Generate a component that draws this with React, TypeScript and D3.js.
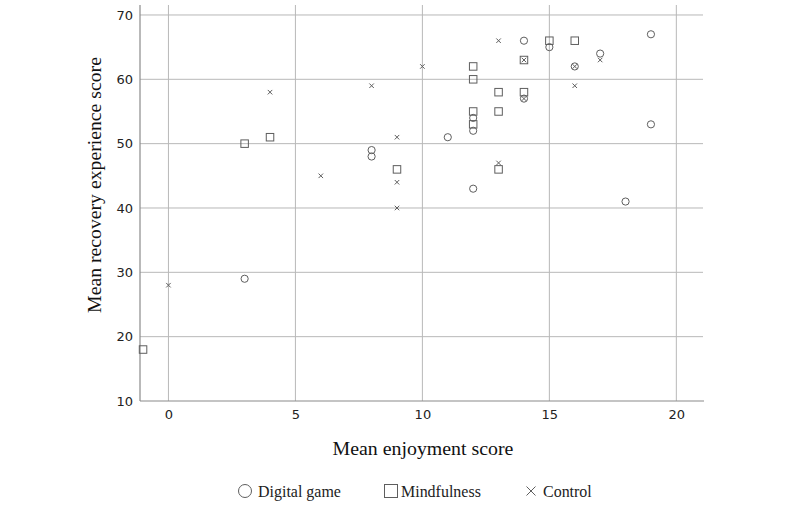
import * as d3 from 'd3'
import { useRef, useEffect } from 'react'

// enjoyment (x) and recovery experience (y) per group
const gameX = [3, 8, 8, 11, 12, 12, 12, 14, 14, 15, 16, 17, 18, 19, 19]
const gameY = [29, 49, 48, 51, 54, 52, 43, 66, 57, 65, 62, 64, 41, 67, 53]
const mindX = [-1, 3, 4, 9, 12, 12, 12, 12, 13, 13, 13, 14, 14, 15, 16]
const mindY = [18, 50, 51, 46, 62, 60, 55, 53, 58, 55, 46, 63, 58, 66, 66]
const ctrlX = [0, 4, 6, 8, 9, 9, 9, 10, 13, 13, 14, 14, 16, 16, 17]
const ctrlY = [28, 58, 45, 59, 51, 44, 40, 62, 66, 47, 63, 57, 62, 59, 63]

const xTicks = [0, 5, 10, 15, 20]
const yTicks = [10, 20, 30, 40, 50, 60, 70]
const groups = ['Digital game', 'Mindfulness', 'Control']

export default function App() {
    const svgRef = useRef(null)
    const width = 800
    const height = 507

    useEffect(() => {
        const svg = d3.select(svgRef.current)
        svg.selectAll('*').remove()

        const x = d3.scaleLinear().domain([-1.12, 21.05]).range([140, 703])
        const y = d3.scaleLinear().domain([10, 71.55]).range([401, 5])
        const markColor = '#5e5e5e'
        const gridColor = '#b8b8b8'
        const serif = 'Liberation Serif'

        // grid
        svg.append('g').selectAll('line').data(xTicks).enter().append('line')
            .attr('x1', d => x(d)).attr('x2', d => x(d))
            .attr('y1', y(10)).attr('y2', 5)
            .attr('stroke', gridColor).attr('stroke-width', 1)
        svg.append('g').selectAll('line').data(yTicks.slice(1)).enter().append('line')
            .attr('x1', 140).attr('x2', 703)
            .attr('y1', d => y(d)).attr('y2', d => y(d))
            .attr('stroke', gridColor).attr('stroke-width', 1)

        // axes
        const xAxis = svg.append('g').attr('transform', `translate(0,${y(10)})`)
            .call(d3.axisBottom(x).tickValues(xTicks).tickSize(0).tickPadding(9))
        const yAxis = svg.append('g').attr('transform', `translate(140,0)`)
            .call(d3.axisLeft(y).tickValues(yTicks).tickSize(0).tickPadding(7))
        for (const ax of [xAxis, yAxis]) {
            ax.select('.domain').attr('stroke', '#8a8a8a').attr('stroke-width', 1.2)
            ax.selectAll('text').attr('font-family', 'DejaVu Sans').attr('font-size', 13).attr('fill', '#222')
        }
        yAxis.select('.domain').attr('d', `M0,${y(10)}V5`)
        xAxis.select('.domain').attr('d', `M140,0H704`)

        // titles, sized to the widths measured on the reference
        const fit = (sel, target) => {
            const len = sel.node().getComputedTextLength()
            const size = len > 0 ? 16 * target / len : 16
            sel.attr('font-size', size)
            return size
        }
        const xt = svg.append('text').attr('x', 423).attr('y', 455).attr('text-anchor', 'middle')
            .attr('font-family', serif).attr('font-size', 16).attr('fill', '#111')
            .text('Mean enjoyment score')
        fit(xt, 181)
        const yt = svg.append('text').attr('transform', `translate(101,185) rotate(-90)`).attr('text-anchor', 'middle')
            .attr('font-family', serif).attr('font-size', 16).attr('fill', '#111')
            .text('Mean recovery experience score')
        fit(yt, 256)

        const drawCircle = (g, cx, cy, r) => g.append('circle').attr('cx', cx).attr('cy', cy).attr('r', r)
            .attr('fill', 'none').attr('stroke', markColor).attr('stroke-width', 1)
        const drawSquare = (g, cx, cy, s) => g.append('rect').attr('x', cx - s / 2).attr('y', cy - s / 2)
            .attr('width', s).attr('height', s)
            .attr('fill', 'none').attr('stroke', markColor).attr('stroke-width', 1)
        const drawCross = (g, cx, cy, s) => g.append('path')
            .attr('d', `M${cx - s / 2},${cy - s / 2}L${cx + s / 2},${cy + s / 2}M${cx - s / 2},${cy + s / 2}L${cx + s / 2},${cy - s / 2}`)
            .attr('stroke', markColor).attr('stroke-width', 1)

        const marks = svg.append('g')
        gameX.forEach((v, i) => drawCircle(marks, x(v), y(gameY[i]), 3.6))
        mindX.forEach((v, i) => drawSquare(marks, x(v), y(mindY[i]), 7.5))
        ctrlX.forEach((v, i) => drawCross(marks, x(v), y(ctrlY[i]), 4.5))

        // legend
        const lg = svg.append('g')
        const lx = [245, 391, 531]
        const tx = [258, 401, 543]
        drawCircle(lg, lx[0], 491, 6.5)
        drawSquare(lg, lx[1], 491, 13)
        drawCross(lg, lx[2], 491, 9)
        const labels = groups.map((g, i) => lg.append('text').attr('x', tx[i]).attr('y', 497)
            .attr('font-family', serif).attr('font-size', 16).attr('fill', '#222').text(g))
        const legendSize = fit(labels[0], 83)
        labels.forEach(l => l.attr('font-size', legendSize))
    }, [])

    return (
        <svg ref={svgRef} width={width} height={height}
            style={{ position: 'absolute', left: 0, top: 0, background: '#fff' }}></svg>
    )
}
